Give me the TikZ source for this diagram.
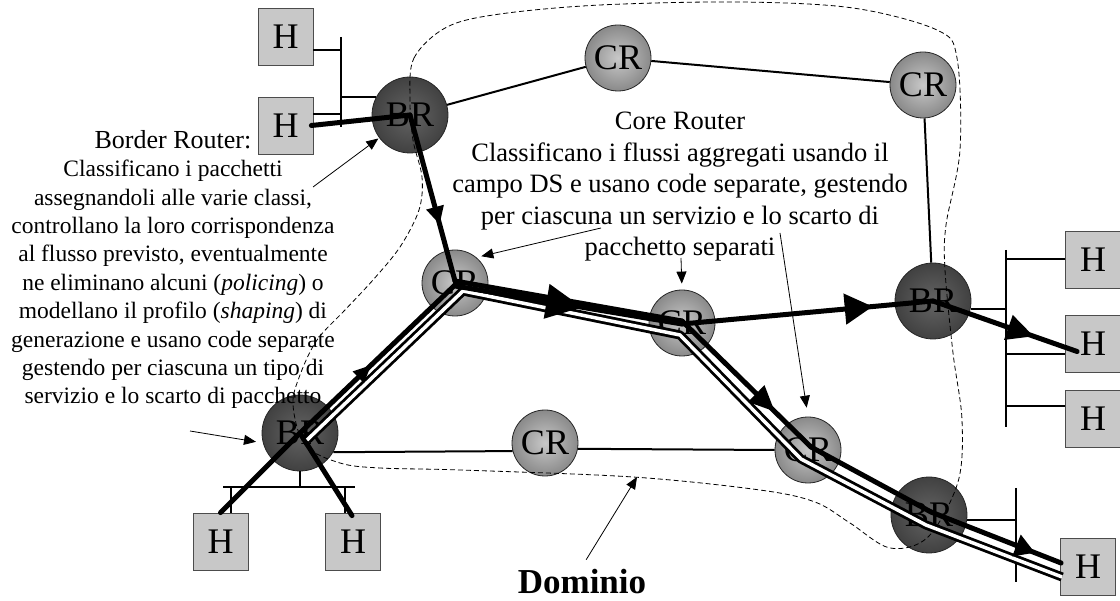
\documentclass[tikz,border=0pt]{standalone}
\usepackage{fontspec}
\setmainfont{Liberation Serif}
\usetikzlibrary{arrows.meta,decorations.markings,calc}
\definecolor{hostfill}{RGB}{200,200,200}
\definecolor{crin}{RGB}{200,200,200}
\definecolor{crout}{RGB}{75,75,75}
\definecolor{brin}{RGB}{100,100,100}
\definecolor{brout}{RGB}{30,30,30}
\pgfdeclareradialshading{crshade}{\pgfpoint{0bp}{0bp}}{color(0bp)=(crin); color(50bp)=(crout)}
\pgfdeclareradialshading{brshade}{\pgfpoint{0bp}{0bp}}{color(0bp)=(brin); color(50bp)=(brout)}
\tikzset{
  host/.style={draw=black!70, line width=0.8pt, fill=hostfill, minimum width=55pt, minimum height=57pt, inner sep=0pt, font=\fontsize{36}{36}\selectfont},
  crnode/.style={circle, draw=black!85, line width=0.8pt, shading=crshade, minimum size=66pt, inner sep=0pt, font=\fontsize{36}{36}\selectfont},
  brnode/.style={circle, draw=black!85, line width=0.8pt, shading=brshade, minimum size=76pt, inner sep=0pt, font=\fontsize{36}{36}\selectfont},
  link/.style={line width=2pt},
  busline/.style={line width=2.4pt},
  flow/.style={line width=5pt, line cap=round, line join=round},
  dflow/.style={line width=2.8pt, double=white, double distance=3.5pt, line join=round},
  ann/.style={line width=0.8pt, -{Triangle[length=12pt,width=10pt]}},
  domainline/.style={line width=0.8pt, dash pattern=on 5pt off 3pt},
  marr/.style 2 args={postaction={decorate, decoration={markings, mark=at position #1 with {\arrow{Triangle[#2]}}}}},
}
\begin{document}
\begin{tikzpicture}[x=1pt,y=-1pt]
\useasboundingbox (0,0) rectangle (1120,601);

% hosts
\node[host] (Htl1) at (285.5,37) {H};
\node[host] (Htl2) at (285.5,125.5) {H};
\node[host] (Hbl1) at (220.5,541.5) {H};
\node[host] (Hbl2) at (353,541.5) {H};
\node[host] (Hr1) at (1093,259.5) {H};
\node[host] (Hr2) at (1093,343.5) {H};
\node[host] (Hr3) at (1093,418.5) {H};
\node[host] (Hbr) at (1088,567) {H};

% routers
\node[brnode] (BR1) at (410,115) {BR};
\node[crnode] (CRt) at (618,58) {CR};
\node[crnode] (CRtr) at (923,85) {CR};
\node[crnode] (CRm) at (455,283) {CR};
\node[crnode] (CRc) at (682,323) {CR};
\node[brnode] (BRr) at (933,301) {BR};
\node[crnode] (CRl) at (808,450) {CR};
\node[brnode] (BRbr) at (929,515) {BR};
\node[brnode] (BRbl) at (300,433) {BR};
\node[crnode] (CRb) at (545,443) {CR};

% bus coordinates
\coordinate (tlbusT) at (341,37);
\coordinate (tlbusB) at (341,127);
\coordinate (rbusT) at (1006,250);
\coordinate (rbusB) at (1006,427);
\coordinate (brbusT) at (1016,488);
\coordinate (brbusB) at (1016,582);
\coordinate (blbusL) at (223,487);
\coordinate (blbusR) at (355,487);

% buses
\draw[busline] (tlbusT) -- (tlbusB);
\draw[busline] (rbusT) -- (rbusB);
\draw[busline] (brbusT) -- (brbusB);
\draw[busline] (blbusL) -- (blbusR);

% stubs
\draw[link] ($(Htl1.east)+(0,13)$) coordinate (s1) -- (s1 -| tlbusT);
\draw[link] ($(Htl2.east)+(0,-11.5)$) coordinate (s2) -- (s2 -| tlbusT);
\draw[link] (BR1.152) coordinate (s3) -- (s3 -| tlbusT);
\draw[link] ($(Hr1.west)+(0,-0.5)$) coordinate (s4) -- (s4 -| rbusT);
\draw[link] ($(Hr2.west)+(0,10.5)$) coordinate (s5) -- (s5 -| rbusT);
\draw[link] ($(Hr3.west)+(0,-12.5)$) coordinate (s6) -- (s6 -| rbusT);
\draw[link] (BRr.-12) coordinate (s7) -- (s7 -| rbusT);
\draw[link] (BRbr.-8) coordinate (s8) -- (s8 -| brbusT);
\draw[link] (BRbl.south) -- (BRbl.south |- blbusL);
\draw[link] ($(Hbl1.north)+(10,0)$) coordinate (s9) -- (s9 |- blbusL);
\draw[link] ($(Hbl2.north)+(-8,0)$) coordinate (s10) -- (s10 |- blbusL);

% links
\draw[link] (BR1) -- (CRt);
\draw[link] (CRt) -- (CRtr);
\draw[link] (CRtr) -- (BRr);
\draw[link] (BRbl.-30) -- (CRb.194);
\draw[link] (CRb.-10) -- (CRl.west);

% domain boundary
\draw[domainline] plot[smooth cycle, tension=0.55] coordinates {
 (410,100) (414,58) (447,27) (500,14) (600,5) (740,2) (853,8) (937,30) (957,58)
 (960,150) (946,225) (945,270) (953,353) (962,420) (958,482) (928,537) (890,548)
 (850,523) (815,502) (760,490) (633,477) (460,470) (380,468) (340,463) (305,445)
 (293,405) (300,375) (317,340) (345,310) (373,280) (400,247) (419,210) (422,177) (413,140)};
\coordinate (domedge) at (637,477);

% double flow
\draw[flow] (BRbl.center) -- ($(Hbl2.north)+(-1,3)$);
\draw[dflow] ($(BRbl.center)+(7,7)$) -- ($(CRm.center)+(8,8)$) -- ($(CRc.center)+(-2,12)$)
  -- ($(CRl.center)+(-7,9)$) -- ($(BRbr.center)+(-3,10)$) -- ($(Hbr.west)+(2,10)$);

% thick flow 1
\draw[flow] ($(Htl2.east)+(-2,0)$) -- (BR1.center);
\draw[flow, marr={0.66}{length=18pt,width=17pt}] (BR1.center) -- ($(CRm.center)+(0,-2)$);
\draw[flow] ($(CRm.center)+(0,-2)$) -- ($(CRc.center)+(0,-2)$);
\draw[flow, marr={0.72}{length=26pt,width=22pt}] ($(CRc.center)+(0,-2)$) -- ($(CRl.center)+(3,-3)$);
\draw[flow] ($(CRl.center)+(3,-3)$) -- ($(BRbr.center)+(2,-3)$);
\draw[flow, marr={0.8}{length=20pt,width=22pt}] ($(BRbr.center)+(2,-3)$) -- ($(Hbr.west)+(1,-4)$);

% thick flow 2
\draw[flow] (Hbl1.north) -- (BRbl.center);
\draw[flow, marr={0.46}{length=18pt,width=15pt}] (BRbl.center) -- ($(CRm.center)+(0,2)$);
\draw[flow, marr={0.56}{length=36pt,width=34pt}] ($(CRm.center)+(0,3)$) -- ($(CRc.center)+(0,1)$);
\draw[flow, marr={0.76}{length=28pt,width=30pt}] ($(CRc.center)+(0,1)$) -- (BRr.center);
\draw[flow, marr={0.7}{length=27pt,width=25pt}] (BRr.center) -- ($(Hr2.west)+(12,8)$);

% annotation arrows
\coordinate (a1) at (313,187);
\coordinate (a2) at (601,228);
\coordinate (a3) at (681,258);
\coordinate (a4) at (780,233);
\coordinate (a5) at (190,431);
\draw[ann, shorten >=1pt] (a1) -- (BR1);
\draw[ann, shorten >=5pt] (a2) -- (CRm.50);
\draw[ann, shorten >=6pt] (a3) -- (CRc.north);
\draw[ann, shorten >=9pt] (a4) -- (CRl.north);
\draw[ann, shorten >=7pt] (a5) -- (BRbl.195);

% texts
\node[align=center, anchor=base, inner sep=0pt, font=\fontsize{23.5}{28.4}\selectfont] (brtext) at (173,404)
 {{\fontsize{26}{28.4}\selectfont Border Router:}\\
  Classificano i pacchetti\\
  assegnandoli alle varie classi,\\
  controllano la loro corrispondenza\\
  al flusso previsto, eventualmente\\
  ne eliminano alcuni (\textit{policing}) o\\
  modellano il profilo (\textit{shaping}) di\\
  generazione e usano code separate\\
  gestendo per ciascuna un tipo di\\
  servizio e lo scarto di pacchetto};
\node[align=center, anchor=base, inner sep=0pt, font=\fontsize{26.5}{31.5}\selectfont] (crtext) at (680,256)
 {Core Router\\
  Classificano i flussi aggregati usando il\\
  campo DS e usano code separate, gestendo\\
  per ciascuna un servizio e lo scarto di\\
  pacchetto separati};
\node[anchor=base, inner sep=2pt, font=\bfseries\fontsize{35}{35}\selectfont] (dom) at (582,593) {Dominio};
\draw[ann, shorten <=8pt] (dom.north) -- (domedge);
\end{tikzpicture}
\end{document}
